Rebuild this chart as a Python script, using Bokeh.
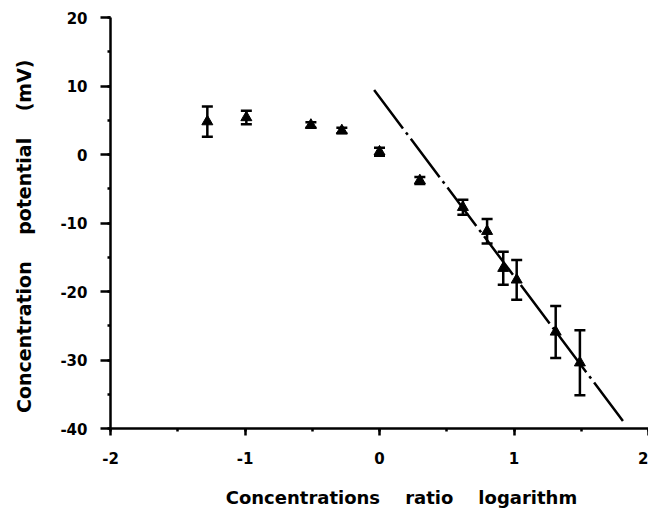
from bokeh.plotting import figure
from bokeh.models import (ColumnDataSource, Whisker, TeeHead, SingleIntervalTicker,
                          Range1d, LinearAxis)
from bokeh.embed import file_html
from bokeh.resources import INLINE

# Data
log_ratio = [-1.28, -0.99, -0.51, -0.28, 0.0, 0.30, 0.62, 0.80, 0.92, 1.02, 1.31, 1.49]
potential = [4.8, 5.4, 4.3, 3.5, 0.4, -3.8, -7.7, -11.2, -16.6, -18.3, -25.9, -30.4]
error = [2.2, 1.0, 0.4, 0.4, 0.6, 0.5, 1.1, 1.8, 2.4, 2.9, 3.8, 4.75]
fit_x = [-0.04, 1.81]
fit_y = [9.4, -38.9]

x_ticks = [-2, -1, 0, 1, 2]
x_tick_labels = ["-2", "-1", "0", "1", "2"]
y_ticks = [-40, -30, -20, -10, 0, 10, 20]
y_tick_labels = ["-40", "-30", "-20", "-10", "0", "10", "20"]

NB = "\u00a0"
x_words = ["Concentrations", "ratio", "logarithm"]
y_words = ["Concentration", "potential", "(mV)"]
# word gaps are wide in the reference; outer padding shifts the centred title
x_label = NB * 7 + (NB * 4).join(x_words)
y_label = (NB * 4).join(y_words) + NB * 4

FONT = "DejaVu Sans"
W, H = 648, 510

p = figure(width=W, height=H, output_backend="svg", toolbar_location=None,
           x_range=Range1d(-2, 2), y_range=Range1d(-40, 20),
           x_axis_location=None, y_axis_location=None,
           min_border_left=110, min_border_top=17, min_border_right=0,
           min_border_bottom=82)
p.outline_line_color = None
p.grid.visible = False
p.background_fill_color = "white"
p.border_fill_color = "white"

xaxis = LinearAxis(ticker=SingleIntervalTicker(interval=1, num_minor_ticks=2),
                   axis_label=x_label)
yaxis = LinearAxis(ticker=SingleIntervalTicker(interval=10, num_minor_ticks=2),
                   axis_label=y_label)
xaxis.major_label_overrides = dict(zip(x_ticks, x_tick_labels))
yaxis.major_label_overrides = dict(zip(y_ticks, y_tick_labels))
for ax in (xaxis, yaxis):
    ax.axis_line_width = 2.5
    ax.axis_line_color = "black"
    ax.major_tick_line_width = 2.5
    ax.minor_tick_line_width = 2.5
    ax.major_tick_in = 0
    ax.minor_tick_in = 0
    ax.minor_tick_out = 3
    ax.major_label_text_font = FONT
    ax.major_label_text_font_style = "bold"
    ax.major_label_text_font_size = "15px"
    ax.major_label_text_color = "black"
    ax.axis_label_text_font = FONT
    ax.axis_label_text_font_style = "bold"
    ax.axis_label_text_color = "black"
xaxis.major_tick_out = 7
xaxis.major_label_standoff = 16
xaxis.axis_label_standoff = 20
xaxis.axis_label_text_font_size = "18px"
yaxis.major_tick_out = 10
yaxis.major_label_standoff = 13
yaxis.axis_label_standoff = 22
yaxis.axis_label_text_font_size = "19px"
p.add_layout(xaxis, "below")
p.add_layout(yaxis, "left")

src = ColumnDataSource(dict(
    x=log_ratio, y=potential,
    upper=[v + e for v, e in zip(potential, error)],
    lower=[v - e for v, e in zip(potential, error)],
))

p.line(fit_x, fit_y, line_color="black", line_width=2.5, line_dash="48 5 3 5")

p.add_layout(Whisker(source=src, base="x", upper="upper", lower="lower",
                     line_color="black", line_width=2.5,
                     upper_head=TeeHead(size=11, line_width=2.5, line_color="black"),
                     lower_head=TeeHead(size=11, line_width=2.5, line_color="black")))
p.scatter("x", "y", source=src, marker="triangle", size=11,
          fill_color="black", line_color="black")

open("out.html", "w").write(file_html(p, INLINE))
